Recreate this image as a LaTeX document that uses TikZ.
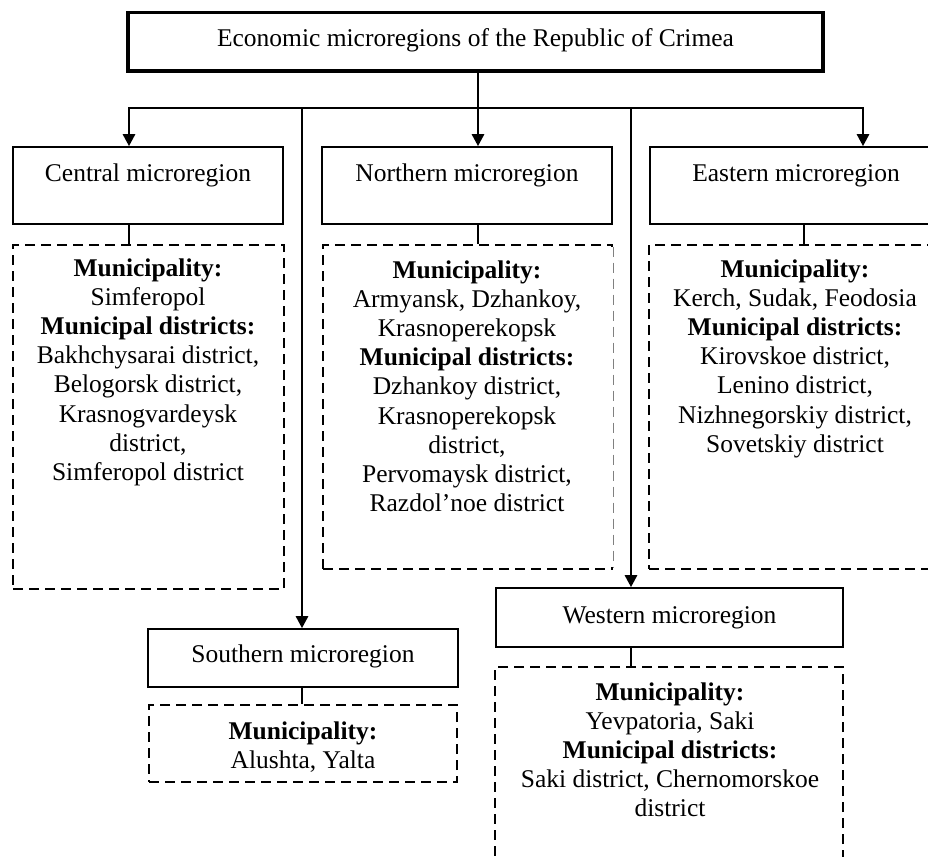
\documentclass[tikz,border=0pt]{standalone}
\usepackage{fontspec}
\setmainfont{Liberation Serif}
\usetikzlibrary{arrows.meta}
\begin{document}
\begin{tikzpicture}[x=1pt,y=-1pt,
  every node/.style={inner sep=0pt, font=\fontsize{25.5}{29.2}\selectfont},
  topbox/.style={draw, line width=3.6pt, minimum width=695pt, text height=34pt, text depth=24.3pt, anchor=base},
  regbox/.style={draw, line width=1.6pt, anchor=base},
  dbox/.style={draw, line width=2.9pt, dash pattern=on 10pt off 6pt, line join=miter},
  dtext/.style={align=center, anchor=north},
  conn/.style={line width=2.6pt},
  bus/.style={line width=2.2pt, line cap=rect},
  arr/.style={conn, -{Triangle[length=12pt,width=12pt]}},
  link/.style={line width=1.6pt}
]
\useasboundingbox (0,0) rectangle (928,856);
\clip (0,0) rectangle (928,856);

% top box
\node[topbox] (top) at (475.5,46.7) {Economic microregions of the Republic of Crimea};

% bus coordinates
\coordinate (bL) at (129,108);
\coordinate (bS) at (302,108);
\coordinate (bN) at (478,108);
\coordinate (bW) at (631,108);
\coordinate (bE) at (863,108);
\coordinate (eLk) at (804,108);

% region title boxes
\node[regbox, minimum width=270pt, text height=34pt, text depth=43pt] (central) at (148,181) {Central microregion};
\node[regbox, minimum width=290pt, text height=34pt, text depth=43pt] (northern) at (467,181) {Northern microregion};
\node[regbox, minimum width=292pt, text height=34pt, text depth=43pt] (eastern) at (796,181) {Eastern microregion};
\node[regbox, minimum width=310pt, text height=33pt, text depth=25pt] (southern) at (303,662) {Southern microregion};
\node[regbox, minimum width=347pt, text height=35pt, text depth=24pt] (western) at (669.5,623) {Western microregion};

% dashed boxes
\node[dbox, minimum width=271pt, minimum height=344pt] (centralD) at (148.5,417) {};
\node[dbox, minimum width=289pt, minimum height=324pt] (northD) at (467.5,407) {};
\draw[white, line width=4pt] ([yshift=-3pt]northD.north east) -- ([yshift=3pt]northD.south east);
\draw[line width=0.9pt, gray, dash pattern=on 10pt off 6pt] ([yshift=-3pt]northD.north east) -- ([yshift=3pt]northD.south east);
\node[dbox, minimum width=294pt, minimum height=324pt] (eastD) at (796,407) {};
\node[dbox, minimum width=308pt, minimum height=77pt] (southD) at (303,743.5) {};
\node[dbox, minimum width=348pt, minimum height=213pt] (westD) at (669,773.5) {};

% texts
\node[dtext] (centralT) at (148,255.5) {\strut\textbf{Municipality:}\\Simferopol\\\textbf{Municipal districts:}\\Bakhchysarai district,\\Belogorsk district,\\Krasnogvardeysk\\district,\\Simferopol district};
\node[dtext] (northT) at (467,257.5) {\strut\textbf{Municipality:}\\Armyansk, Dzhankoy,\\Krasnoperekopsk\\\textbf{Municipal districts:}\\Dzhankoy district,\\Krasnoperekopsk\\district,\\Pervomaysk district,\\Razdol’noe district};
\node[dtext] (eastT) at (795,256.5) {\strut\textbf{Municipality:}\\Kerch, Sudak, Feodosia\\\textbf{Municipal districts:}\\Kirovskoe district,\\Lenino district,\\Nizhnegorskiy district,\\Sovetskiy district};
\node[dtext] (southT) at (303,718.5) {\strut\textbf{Municipality:}\\Alushta, Yalta};
\node[dtext] (westT) at (670,679.5) {\strut\textbf{Municipality:}\\Yevpatoria, Saki\\\textbf{Municipal districts:}\\Saki district, Chernomorskoe\\district};

% connectors
\draw[conn] (top.south -| bN) -- (bN);
\draw[bus] (bL) -- (bE);
\draw[arr] (bL) -- (bL |- central.north);
\draw[arr] (bN) -- (bN |- northern.north);
\draw[arr] (bE) -- (bE |- eastern.north);
\draw[arr] (bS) -- (bS |- southern.north);
\draw[arr] (bW) -- (bW |- western.north);

\draw[link] (bL |- central.south) -- (bL |- centralD.north);
\draw[link] (bN |- northern.south) -- (bN |- northD.north);
\draw[link] (eLk |- eastern.south) -- (eLk |- eastD.north);
\draw[link] (bS |- southern.south) -- (bS |- southD.north);
\draw[link] (bW |- western.south) -- (bW |- westD.north);
\end{tikzpicture}
\end{document}
